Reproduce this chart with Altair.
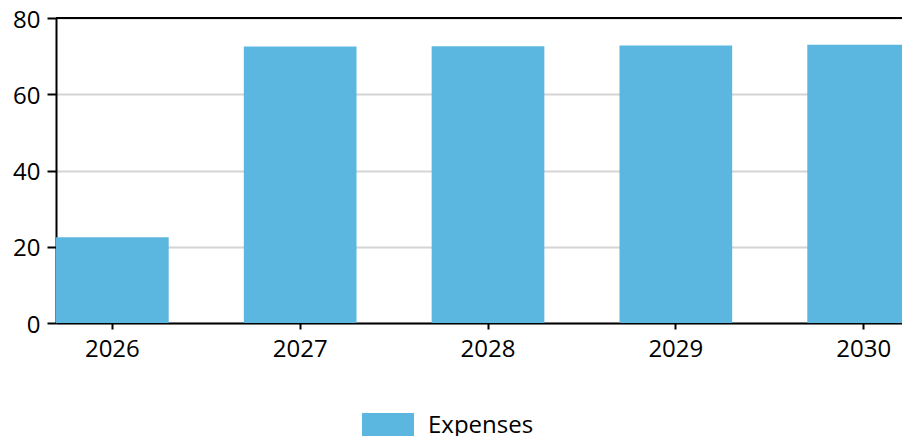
import altair as alt
import pandas as pd

years = ["2026", "2027", "2028", "2029", "2030"]
expenses = [22.5, 72.5, 72.6, 72.8, 73.0]
series = ["Expenses"] * len(years)
y_ticks = [0, 20, 40, 60, 80]
y_top = [80]

df = pd.DataFrame({"year": years, "value": expenses, "series": series})
top_df = pd.DataFrame({"v": y_top})

FONT = "Open Sans"
W = 846

bars = alt.Chart(df).mark_bar(clip=True).encode(
    x=alt.X("year:N", sort=years, title=None,
            scale=alt.Scale(paddingInner=0.4, paddingOuter=0, range=[0, 864]),
            axis=alt.Axis(labelAngle=0, tickSize=6, labelPadding=8, domainColor="black",
                          domainWidth=2, tickColor="black", tickWidth=2, grid=False)),
    y=alt.Y("value:Q", title=None,
            scale=alt.Scale(domain=[0, 80], nice=False),
            axis=alt.Axis(values=y_ticks, tickSize=9, labelPadding=7, labelOffset=2,
                          domainColor="black", domainWidth=2, tickColor="black", tickWidth=2,
                          gridColor="#d4d4d4", gridWidth=2)),
    color=alt.Color("series:N", title=None,
                    scale=alt.Scale(range=["#5cb7e0"]),
                    legend=alt.Legend(orient="none", legendX=306, legendY=382,
                                      symbolType="M-1,-0.5H1V0.5H-1Z", symbolSize=2704,
                                      symbolStrokeWidth=0, symbolOpacity=1,
                                      labelFontSize=24, labelFont=FONT, labelColor="black",
                                      labelOffset=14, padding=0)),
)

top_line = alt.Chart(top_df).mark_rule(color="black", strokeWidth=2).encode(
    y=alt.Y("v:Q"),
    x=alt.value(0),
    x2=alt.value(W),
)

chart = alt.layer(bars, top_line).properties(
    width=W, height=305,
    autosize=alt.AutoSizeParams(type="none"),
    padding={"left": 48, "top": 10, "right": 0, "bottom": 113},
).configure_view(
    strokeWidth=0
).configure_axis(
    labelFont=FONT, labelFontSize=24, labelColor="black"
)

chart.save("out.html", embed_options={"renderer": "svg", "actions": False})
